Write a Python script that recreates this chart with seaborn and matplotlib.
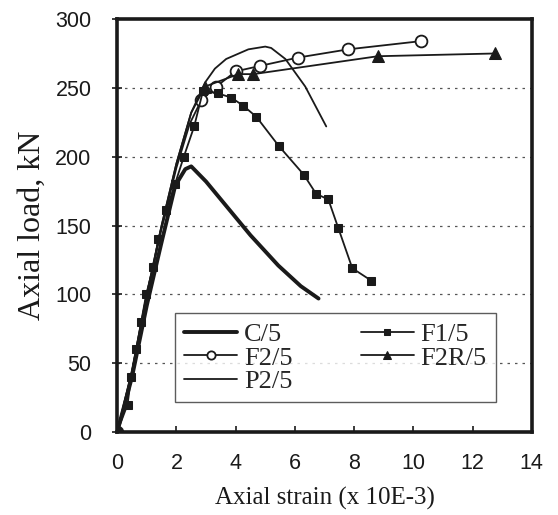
import matplotlib
matplotlib.use("Agg")
import matplotlib.pyplot as plt
import seaborn as sns

# Axial strain (x 10E-3) / axial load (kN)
c5_x = [0, 0.5, 1.0, 1.5, 1.96, 2.3, 2.5, 3.0, 3.5, 4.5, 5.44, 6.2, 6.8]
c5_y = [0, 40, 92, 138, 179, 191, 193, 182, 169, 143, 121, 106, 97]

f15_x = [0, 0.35, 0.47, 0.64, 0.81, 0.98, 1.22, 1.39, 1.66, 1.95, 2.25, 2.6,
         2.9, 3.4, 3.85, 4.26, 4.7, 5.45, 6.3, 6.72, 7.13, 7.47, 7.94, 8.58]
f15_y = [0, 20, 40, 60, 80, 100, 120, 140, 161, 180, 200, 222,
         248, 246, 243, 237, 229, 208, 187, 173, 169, 148, 119, 110]

f25_x = [0, 0.5, 1.0, 1.5, 2.0, 2.45, 2.84, 3.35, 4.0, 4.83, 6.1, 7.8, 10.27]
f25_y = [0, 42, 98, 148, 192, 224, 241, 251, 262, 266, 272, 278, 284]

f2r5_x = [0, 0.5, 1.0, 1.5, 2.0, 2.5, 2.97, 4.09, 4.6, 8.8, 12.77]
f2r5_y = [0, 44, 100, 150, 195, 232, 251, 260, 260, 273, 275]

p25_x = [0, 0.5, 1.0, 1.5, 2.0, 2.5, 2.97, 3.3, 3.68, 4.43, 5.0, 5.2, 5.68, 6.35, 7.06]
p25_y = [0, 45, 100, 150, 195, 232, 254, 264, 271, 278, 280, 279, 271, 251, 222]

x_ticks = [0, 2, 4, 6, 8, 10, 12, 14]
y_ticks = [0, 50, 100, 150, 200, 250, 300]

sns.set_style("ticks")
plt.rcParams["font.family"] = ["Liberation Sans", "DejaVu Sans"]

fig = plt.figure(figsize=(5.58, 5.15), dpi=100)
ax = fig.add_axes([0.21, 0.161, 0.743, 0.802])

ink = "#1a1a1a"

sns.lineplot(x=c5_x, y=c5_y, ax=ax, sort=False, estimator=None, color=ink,
             lw=2.8, label="C/5")
sns.lineplot(x=f25_x, y=f25_y, ax=ax, sort=False, estimator=None, color=ink,
             lw=1.3, marker="o", ms=8.5, mfc="white", mec=ink, mew=1.3,
             markevery=[0, 6, 7, 8, 9, 10, 11, 12], label="F2/5")
sns.lineplot(x=p25_x, y=p25_y, ax=ax, sort=False, estimator=None, color=ink,
             lw=1.3, label="P2/5")
sns.lineplot(x=f15_x, y=f15_y, ax=ax, sort=False, estimator=None, color=ink,
             lw=1.3, marker="s", ms=6, mfc=ink, mec=ink, label="F1/5")
sns.lineplot(x=f2r5_x, y=f2r5_y, ax=ax, sort=False, estimator=None, color=ink,
             lw=1.3, marker="^", ms=8, mfc=ink, mec=ink,
             markevery=[0, 6, 7, 8, 9, 10], label="F2R/5")

ax.set_xlim(0, 14)
ax.set_ylim(0, 300)
ax.set_xticks(x_ticks)
ax.set_yticks(y_ticks)
ax.tick_params(axis="both", labelsize=15.5, colors=ink, width=1.2)
ax.tick_params(axis="x", direction="in", length=4, pad=15)
ax.tick_params(axis="y", direction="inout", length=7, pad=15)

for y in y_ticks[1:-1]:
    ax.axhline(y, color="#555555", lw=0.9, ls=(0, (2, 4)), zorder=0)

for side in ["top", "right", "bottom", "left"]:
    ax.spines[side].set_visible(True)
    ax.spines[side].set_linewidth(2.6)
    ax.spines[side].set_color(ink)

ax.set_xlabel("Axial strain (x 10E-3)", fontsize=18, family="Liberation Serif",
              color=ink, labelpad=9)
ax.set_ylabel("Axial load, kN", fontsize=23, family="Liberation Serif",
              color=ink, labelpad=6)

leg = ax.legend(ncol=2, loc="lower left", bbox_to_anchor=(0.140, 0.072),
                borderaxespad=0,
                prop={"family": "Liberation Serif", "size": 19},
                frameon=True, fancybox=False, edgecolor="#333333",
                handlelength=2.0, handletextpad=0.25, columnspacing=2.6,
                labelspacing=0.0, borderpad=0.35, markerscale=0.7)
leg.get_frame().set_linewidth(1.0)

fig.savefig("out.png", dpi=100)
